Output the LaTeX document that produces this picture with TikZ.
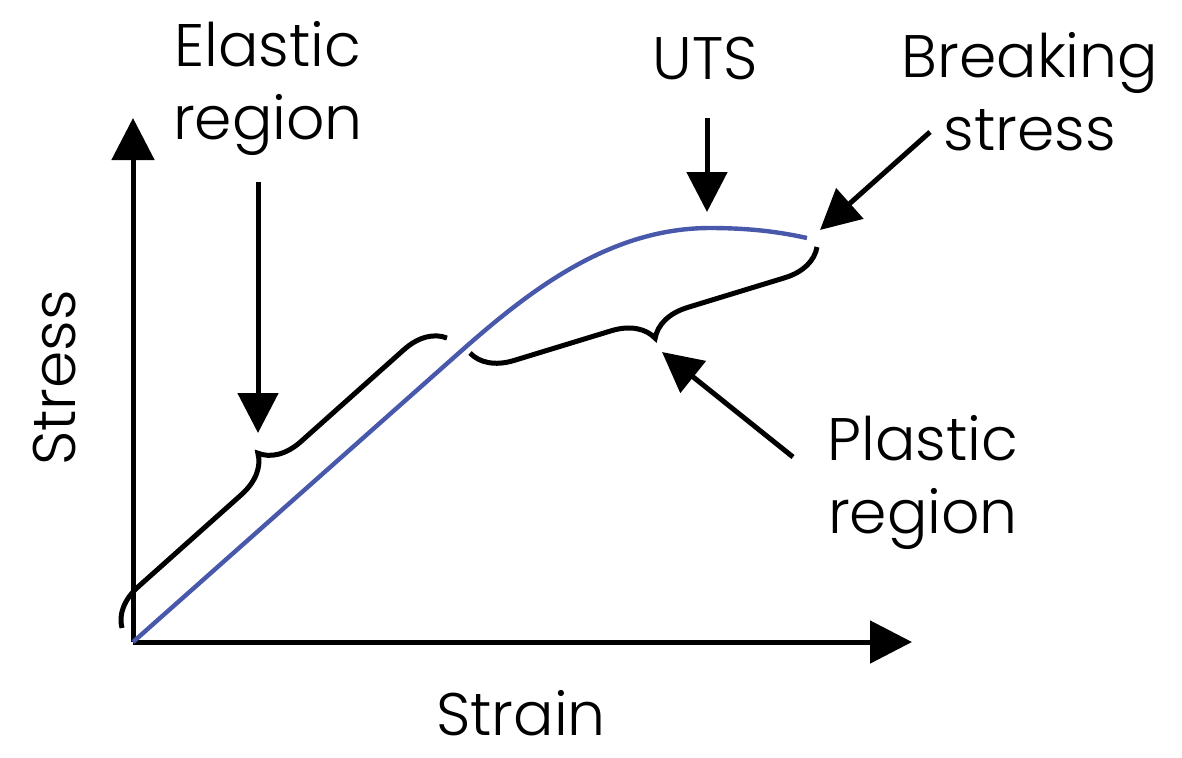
\documentclass[tikz,border=0pt]{standalone}
\usepackage{fontspec}
\setmainfont{Poppins Light}
\usetikzlibrary{arrows.meta,decorations.pathreplacing}
\definecolor{curveblue}{RGB}{72,88,170}
\begin{document}
\begin{tikzpicture}[x=0.5pt,y=-0.5pt,
  lbl/.style={inner sep=0pt,align=center,font=\fontsize{30}{36.5}\selectfont},
  axis/.style={line width=2.5pt,-{Triangle[length=21pt,width=21pt]}},
  pointer/.style={line width=2.5pt,-{Triangle[length=20pt,width=20pt]}},
  curlybrace/.style={line width=2.5pt,decorate,decoration={brace,amplitude=20pt}}]
\useasboundingbox (0,0) rectangle (1182,757);
% coordinates
\coordinate (O) at (133,642);
\coordinate (Ytip) at (133,118);
\coordinate (Xtip) at (912,642);
% axes
\draw[axis] (O) -- (Ytip);
\draw[axis] (O) -- (Xtip);
% curve
\coordinate (Yield) at (460,352);
\coordinate (Peak) at (710,228);
\coordinate (Break) at (807,238);
\draw[curveblue,line width=2.2pt] (O) -- (Yield)
  .. controls (530,290) and (610,228) .. (Peak)
  .. controls (750,228) and (780,232) .. (Break);
% braces
\coordinate (EbA) at (122,628);
\coordinate (EbB) at (447,338);
\draw[curlybrace] (EbA) -- (EbB);
\coordinate (PbA) at (817,247);
\coordinate (PbB) at (470,353);
\draw[curlybrace] (PbA) -- (PbB);
% labels
\node[lbl] (elastic) at (268,88) {Elastic\\region};
\node[lbl] (uts) at (705,58.5) {UTS};
\node[lbl] (breaking) at (1030,91.5) {Breaking\\stress};
\node[lbl] (plastic) at (923,482) {Plastic\\region};
\node[lbl] (strain) at (521,713) {Strain};
\node[lbl,rotate=90] (stress) at (54.5,378) {Stress};
% pointers
\coordinate (EaS) at (258,182);
\coordinate (EaT) at (258,433);
\draw[pointer] (EaS) -- (EaT);
\coordinate (UaS) at (707,118);
\coordinate (UaT) at (707,212);
\draw[pointer] (UaS) -- (UaT);
\coordinate (BaS) at (930,132);
\coordinate (BaT) at (820,230);
\draw[pointer] (BaS) -- (BaT);
\coordinate (PaS) at (793,457);
\coordinate (PaT) at (662,352);
\draw[pointer] (PaS) -- (PaT);
\end{tikzpicture}
\end{document}
